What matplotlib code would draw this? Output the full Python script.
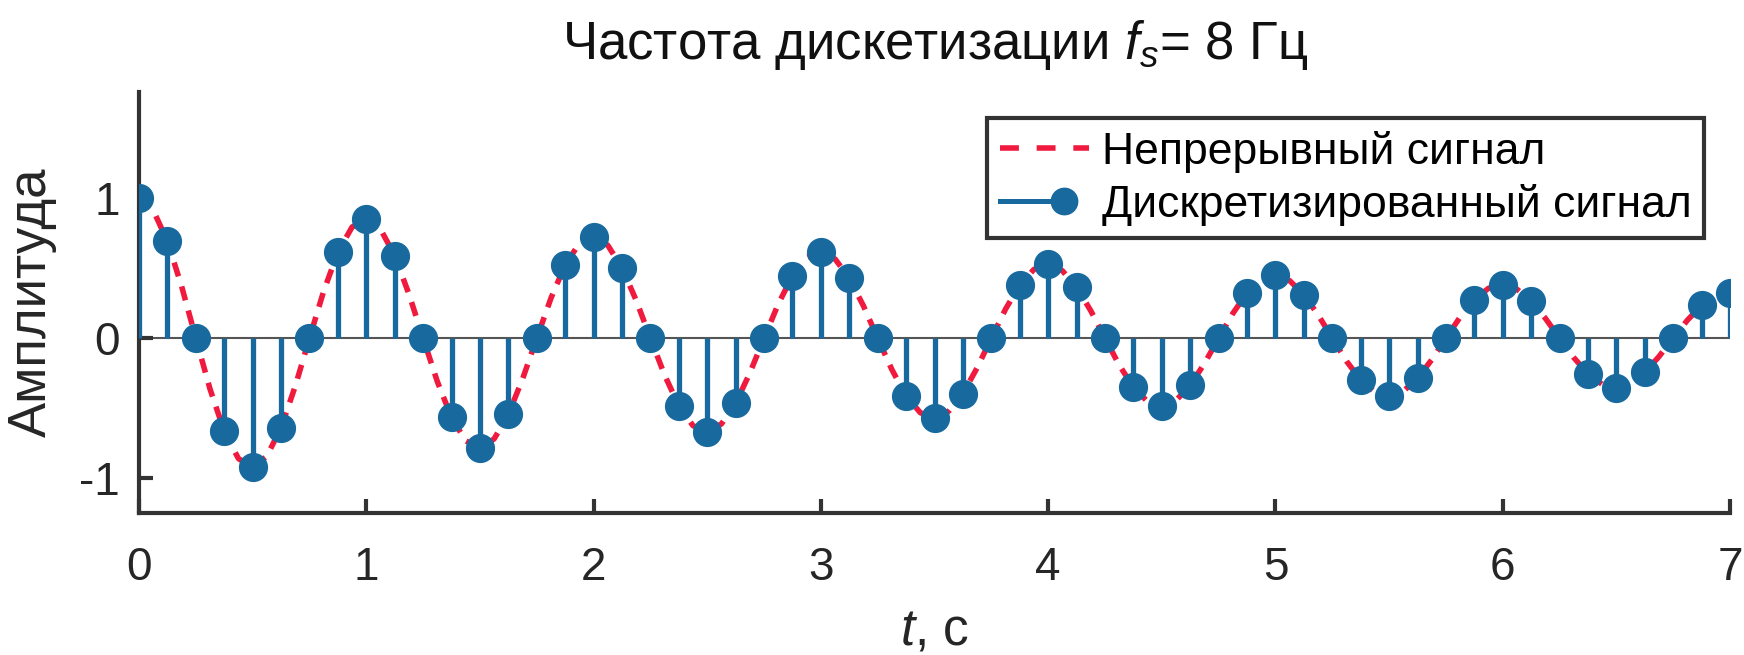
import numpy as np
import matplotlib.pyplot as plt
from matplotlib.lines import Line2D
from matplotlib.legend_handler import HandlerBase

# sampling rate and sample times
fs = 8
t_samples = np.arange(57) / fs

samples = [1.00, 0.693, 0.0, -0.666, -0.923, -0.640, 0.0, 0.615,
           0.852, 0.591, 0.0, -0.567, -0.787, -0.545, 0.0, 0.524,
           0.726, 0.503, 0.0, -0.484, -0.670, -0.465, 0.0, 0.446,
           0.619, 0.429, 0.0, -0.412, -0.571, -0.396, 0.0, 0.380,
           0.527, 0.365, 0.0, -0.351, -0.487, -0.337, 0.0, 0.324,
           0.449, 0.311, 0.0, -0.299, -0.415, -0.288, 0.0, 0.276,
           0.383, 0.265, 0.0, -0.255, -0.354, -0.245, 0.0, 0.235,
           0.326]

# continuous curve read at 1/16 s steps
t_curve = np.arange(113) / 16
curve = [1.00, 0.915, 0.693, 0.371, 0.0, -0.364, -0.666, -0.861, -0.923, -0.844, -0.640, -0.343, 0.0, 0.336, 0.615, 0.795,
         0.852, 0.779, 0.591, 0.316, 0.0, -0.310, -0.567, -0.734, -0.787, -0.720, -0.545, -0.292, 0.0, 0.286, 0.524, 0.678,
         0.726, 0.664, 0.503, 0.270, 0.0, -0.264, -0.484, -0.626, -0.670, -0.613, -0.465, -0.249, 0.0, 0.244, 0.446, 0.577,
         0.619, 0.566, 0.429, 0.230, 0.0, -0.225, -0.412, -0.533, -0.571, -0.522, -0.396, -0.212, 0.0, 0.208, 0.380, 0.492,
         0.527, 0.482, 0.365, 0.196, 0.0, -0.192, -0.351, -0.454, -0.487, -0.445, -0.337, -0.181, 0.0, 0.177, 0.324, 0.419,
         0.449, 0.411, 0.311, 0.167, 0.0, -0.164, -0.299, -0.387, -0.415, -0.379, -0.288, -0.154, 0.0, 0.151, 0.276, 0.357,
         0.383, 0.350, 0.265, 0.142, 0.0, -0.139, -0.255, -0.330, -0.354, -0.323, -0.245, -0.131, 0.0, 0.129, 0.235, 0.305,
         0.326]

xticks = [0, 1, 2, 3, 4, 5, 6, 7]
yticks = [-1, 0, 1]

BLUE = '#17699e'
RED = '#f01a3e'
DARK = '#333333'

plt.rcParams['font.family'] = ['Liberation Sans', 'DejaVu Sans']
plt.rcParams['mathtext.fontset'] = 'custom'
plt.rcParams['mathtext.rm'] = 'Liberation Sans'
plt.rcParams['mathtext.it'] = 'Liberation Sans:italic'


class DashHandler(HandlerBase):
    def create_artists(self, legend, orig, xd, yd, width, height, fontsize, trans):
        y = height / 2 - yd
        ln = Line2D([-xd, width - xd], [y, y], color=RED, lw=4, ls=(0, (3.4, 3.2)))
        ln.set_transform(trans)
        return [ln]


class StemHandler(HandlerBase):
    # line with a dot at the right end, like the reference legend
    def create_artists(self, legend, orig, xd, yd, width, height, fontsize, trans):
        y = height / 2 - yd
        ln = Line2D([-xd, width - xd - 18], [y, y], color=BLUE, lw=3.6)
        mk = Line2D([width - xd - 18], [y], marker='o', ms=19, color=BLUE, lw=0)
        ln.set_transform(trans)
        mk.set_transform(trans)
        return [ln, mk]


fig = plt.figure(figsize=(17.44, 6.55), dpi=100)
ax = fig.add_axes([0.0797, 0.2168, 0.9123, 0.6427])

ax.plot(t_curve, curve, color=RED, lw=4, ls=(0, (2.6, 1.9)), zorder=2)
ax.axhline(0, color='#555555', lw=1.5, zorder=1)
ax.vlines(t_samples, 0, samples, color=BLUE, lw=3.8, zorder=3)
ax.plot(t_samples, samples, 'o', color=BLUE, ms=20, zorder=4)

ax.set_xlim(0, 7)
ax.set_ylim(-1.25, 1.76)
ax.set_xticks(xticks)
ax.set_yticks(yticks)
ax.set_xticklabels([str(v) for v in xticks])
ax.set_yticklabels([str(v) for v in yticks])

for s in ['top', 'right']:
    ax.spines[s].set_visible(False)
for s in ['left', 'bottom']:
    ax.spines[s].set_color(DARK)
    ax.spines[s].set_linewidth(3)
ax.tick_params(direction='in', length=10, width=3, color=DARK,
               labelsize=33, labelcolor='#262626')
ax.tick_params(axis='x', pad=24)
ax.tick_params(axis='y', pad=14)

ax.set_title('Частота дискетизации $f_s$= 8 Гц', fontsize=38, pad=24, color='#111111')
ax.set_xlabel('$t$, с', fontsize=37, labelpad=12, color='#262626')
ax.set_ylabel('Амплитуда', fontsize=38, labelpad=16, color='#262626')

h1 = Line2D([], [], color=RED)
h2 = Line2D([], [], color=BLUE)
leg = ax.legend([h1, h2], ['Непрерывный сигнал', 'Дискретизированный сигнал'],
                handler_map={h1: DashHandler(), h2: StemHandler()},
                loc='upper right', bbox_to_anchor=(0.9837, 0.938), borderaxespad=0,
                fontsize=32, handlelength=2.0, handletextpad=0.3,
                fancybox=False, framealpha=1, edgecolor=DARK,
                borderpad=0.28, labelspacing=0.25)
leg.get_frame().set_linewidth(3)

fig.savefig('out.png', dpi=100)
